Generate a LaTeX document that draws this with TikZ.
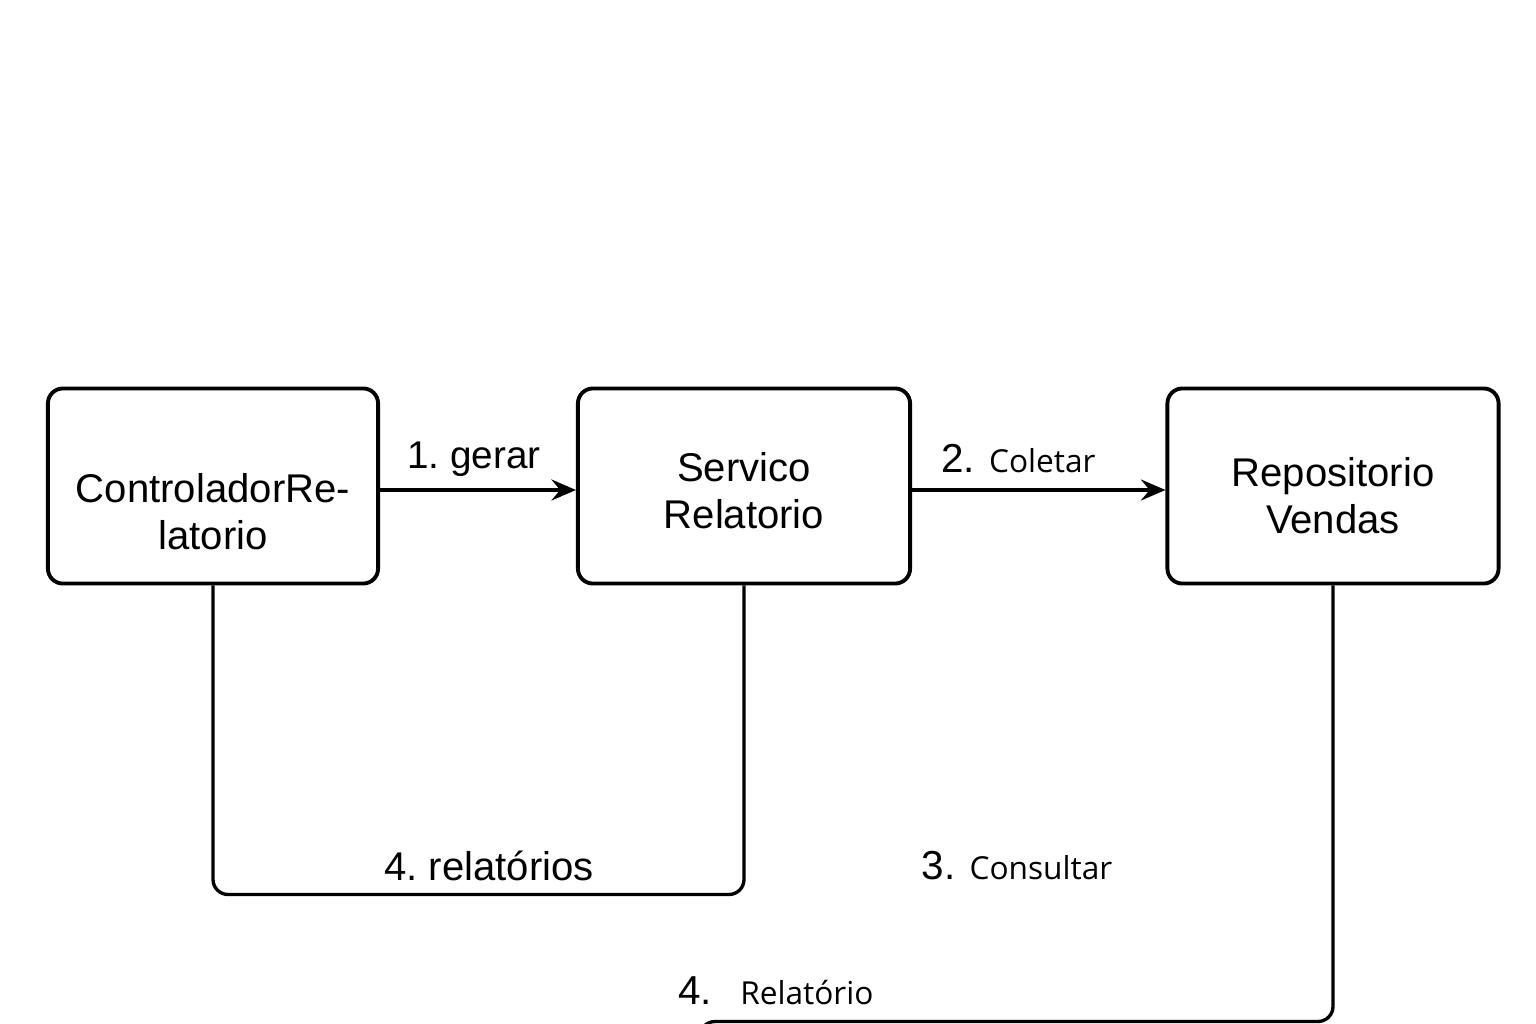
\documentclass[tikz,border=0pt]{standalone}
\usepackage{fontspec}
\setmainfont{Liberation Sans}
\newfontfamily\osans{Open Sans}
\usetikzlibrary{arrows.meta}
\frenchspacing

\tikzset{
  box/.style={draw,line width=1.1pt,rounded corners=0.15cm,
              minimum width=3.3cm,minimum height=1.95cm},
  boxtext/.style={align=center,font=\fontsize{11.4}{13.4}\selectfont},
  link/.style={line width=0.95pt,rounded corners=0.15cm},
  flow/.style={line width=0.95pt,-{Stealth[length=7pt,width=6pt,inset=2.5pt]}},
  msg/.style={font=\fontsize{11}{13}\selectfont}
}

\begin{document}
\begin{tikzpicture}[x=0.01cm,y=-0.01cm]
\clip (0,0) rectangle (1536,1024);
% boxes
\node[box,label={[boxtext,yshift=-0.26cm]center:ControladorRe-\\latorio}] (ctrl) at (213,486) {};
\node[box,minimum width=3.32cm,label={[boxtext,yshift=-0.05cm]center:Servico\\Relatorio}] (serv) at (744,486) {};
\node[box,minimum width=3.31cm,label={[boxtext,yshift=-0.1cm]center:Repositorio\\Vendas}] (repo) at (1333,486) {};
% calls
\draw[flow] (ctrl.east) ++(0,4) coordinate (ctrlOut) -- (ctrlOut -| serv.west)
  node[pos=.48,above,msg]{1. gerar};
\draw[flow] (serv.east) ++(0,4) coordinate (servOut) -- (servOut -| repo.west)
  node[pos=.42,above=1pt]{{\fontsize{11.5}{13}\selectfont 2.}\hspace{4pt}{\osans\fontsize{9}{11}\selectfont Coletar}};
% returns
\draw[link] (ctrl.south) -- ++(0,309) -| (serv.south)
  node[pos=.26,above=0pt,font=\fontsize{11.4}{13}\selectfont]{4. relatórios};
\node (consultar) at (1017,866)
  {{\fontsize{11.5}{13}\selectfont 3.}\hspace{4pt}{\osans\fontsize{9}{11}\selectfont Consultar}};
\coordinate (relEnd) at (700,1090);
\draw[link] (repo.south) -- ++(0,436) -| (relEnd)
  node[pos=.44,above=1pt]{{\fontsize{11.5}{13}\selectfont 4.}\hspace{8pt}{\osans\fontsize{9}{11}\selectfont Relatório}};
\end{tikzpicture}
\end{document}
